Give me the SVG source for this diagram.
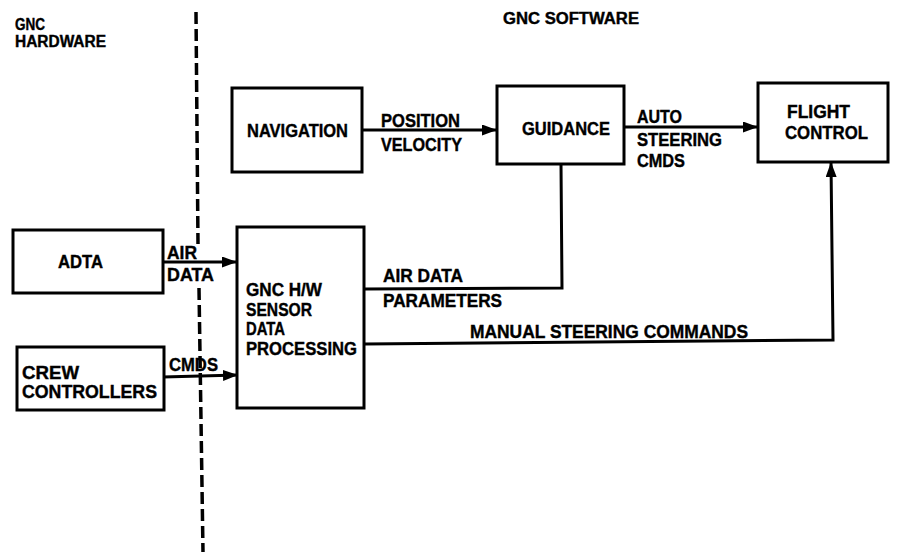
<svg xmlns="http://www.w3.org/2000/svg" width="898" height="554" viewBox="0 0 898 554">
<defs>
<style>
.box{fill:#fff;stroke:#000;stroke-width:3}
.ln{fill:none;stroke:#000;stroke-width:3}
.dash{fill:none;stroke:#000;stroke-width:3.5;stroke-dasharray:12 5}
text{font-family:"Liberation Sans",Arial,sans-serif;font-weight:bold;font-size:18.5px;fill:#000;stroke:#000;stroke-width:0.4}
.hd{font-size:16px}
</style>
<marker id="ah" markerUnits="userSpaceOnUse" markerWidth="16" markerHeight="12" refX="15" refY="5.5" orient="auto">
<path d="M0,0 L15,5.5 L0,11 z" fill="#000"/>
</marker>
</defs>
<rect width="898" height="554" fill="#fff"/>

<g id="divider">
<path class="dash" d="M196,12 L198,244"/>
<path class="dash" d="M199,288 L203,552"/>
</g>

<g id="headings">
<text class="hd" x="15" y="30" textLength="30" lengthAdjust="spacingAndGlyphs">GNC</text>
<text class="hd" x="15" y="47" textLength="91" lengthAdjust="spacingAndGlyphs">HARDWARE</text>
<text class="hd" x="503" y="24" textLength="136" lengthAdjust="spacingAndGlyphs">GNC SOFTWARE</text>
</g>

<g id="connectors">
<line class="ln" x1="362" y1="130" x2="497" y2="130" marker-end="url(#ah)"/>
<line class="ln" x1="624" y1="127" x2="758" y2="127" marker-end="url(#ah)"/>
<line class="ln" x1="163" y1="262" x2="237" y2="262" marker-end="url(#ah)"/>
<line class="ln" x1="163" y1="377" x2="238" y2="375" marker-end="url(#ah)"/>
<polyline class="ln" points="365,289 562,288 561,164"/>
<polyline class="ln" points="365,344 833,340 831,162" marker-end="url(#ah)"/>
<text x="381" y="127" textLength="79" lengthAdjust="spacingAndGlyphs">POSITION</text>
<text x="381" y="151" textLength="81" lengthAdjust="spacingAndGlyphs">VELOCITY</text>
<text x="637" y="123" textLength="45" lengthAdjust="spacingAndGlyphs">AUTO</text>
<text x="637" y="146" textLength="85" lengthAdjust="spacingAndGlyphs">STEERING</text>
<text x="637" y="167" textLength="48" lengthAdjust="spacingAndGlyphs">CMDS</text>
<text x="167" y="259" textLength="30" lengthAdjust="spacingAndGlyphs">AIR</text>
<text x="167" y="281" textLength="47" lengthAdjust="spacingAndGlyphs">DATA</text>
<text x="169" y="371" textLength="49" lengthAdjust="spacingAndGlyphs">CMDS</text>
<text x="383" y="282" textLength="80" lengthAdjust="spacingAndGlyphs">AIR DATA</text>
<text x="383" y="307" textLength="119" lengthAdjust="spacingAndGlyphs">PARAMETERS</text>
<text x="470" y="338" textLength="278" lengthAdjust="spacingAndGlyphs">MANUAL STEERING COMMANDS</text>
</g>

<g id="navigation">
<rect class="box" x="232" y="88" width="130" height="84"/>
<text x="247" y="137" textLength="101" lengthAdjust="spacingAndGlyphs">NAVIGATION</text>
</g>

<g id="guidance">
<rect class="box" x="497" y="86" width="127" height="78"/>
<text x="522" y="135" textLength="88" lengthAdjust="spacingAndGlyphs">GUIDANCE</text>
</g>

<g id="flight-control">
<rect class="box" x="758" y="83" width="130" height="79"/>
<text x="787" y="118" textLength="63" lengthAdjust="spacingAndGlyphs">FLIGHT</text>
<text x="785" y="139" textLength="83" lengthAdjust="spacingAndGlyphs">CONTROL</text>
</g>

<g id="adta">
<rect class="box" x="13" y="230" width="150" height="63"/>
<text x="58" y="268" textLength="45" lengthAdjust="spacingAndGlyphs">ADTA</text>
</g>

<g id="sensor-processing">
<rect class="box" x="237" y="227" width="127" height="181"/>
<text x="246" y="296" textLength="76" lengthAdjust="spacingAndGlyphs">GNC H/W</text>
<text x="246" y="316" textLength="66" lengthAdjust="spacingAndGlyphs">SENSOR</text>
<text x="246" y="335" textLength="39" lengthAdjust="spacingAndGlyphs">DATA</text>
<text x="246" y="355" textLength="111" lengthAdjust="spacingAndGlyphs">PROCESSING</text>
</g>

<g id="crew-controllers">
<rect class="box" x="17" y="347" width="147" height="63"/>
<text x="22" y="379" textLength="57" lengthAdjust="spacingAndGlyphs">CREW</text>
<text x="22" y="398" textLength="135" lengthAdjust="spacingAndGlyphs">CONTROLLERS</text>
</g>
</svg>
